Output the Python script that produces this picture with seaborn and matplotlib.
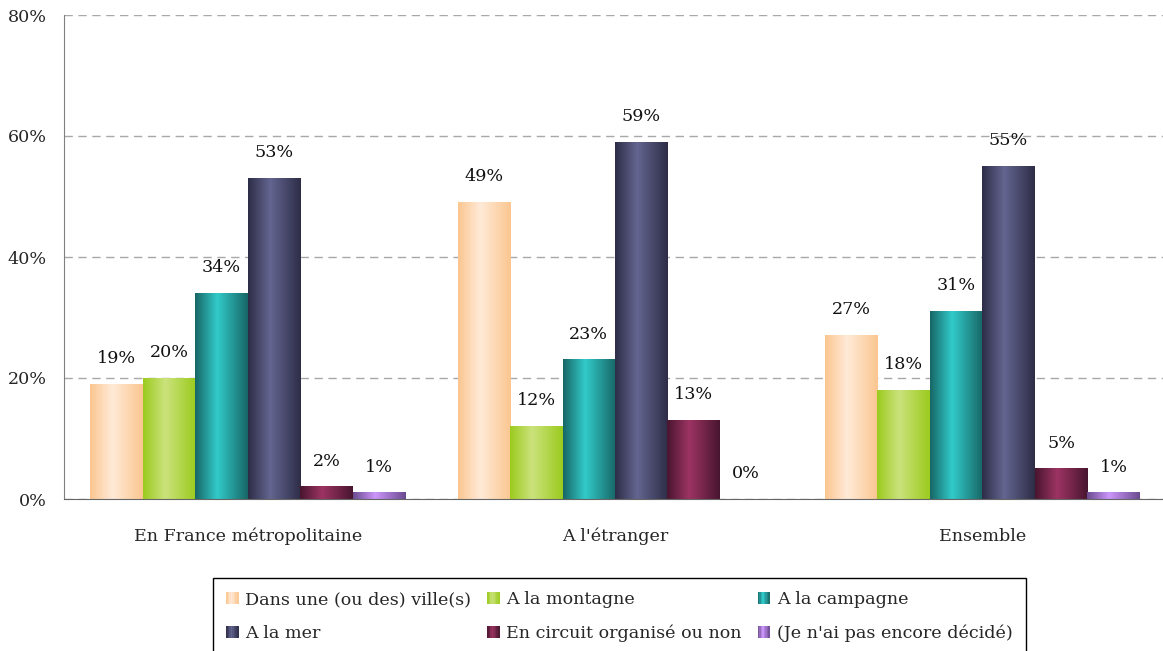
import numpy as np
import pandas as pd
import matplotlib
matplotlib.use("Agg")
import matplotlib.pyplot as plt
import seaborn as sns
from matplotlib.colors import LinearSegmentedColormap
from matplotlib.patches import Rectangle
from matplotlib.legend_handler import HandlerBase

# data
groups = ["En France métropolitaine", "A l'étranger", "Ensemble"]
categories = ["Dans une (ou des) ville(s)", "A la montagne", "A la campagne",
              "A la mer", "En circuit organisé ou non", "(Je n'ai pas encore décidé)"]
ville = [19, 49, 27]
montagne = [20, 12, 18]
campagne = [34, 23, 31]
mer = [53, 59, 55]
circuit = [2, 13, 5]
indecis = [1, 0, 1]
y_ticks = [0, 20, 40, 60, 80]

# gradient colours per category (edge, centre)
edge_cols = ["#FBC690", "#9BCB1E", "#186666", "#2D2D47", "#48152F", "#6A4B8F"]
centre_cols = ["#FFEAD8", "#CBE27C", "#31CBCA", "#646590", "#9D3463", "#CD95FB"]

series = [ville, montagne, campagne, mer, circuit, indecis]
rows = []
for cat, vals in zip(categories, series):
    for g, v in zip(groups, vals):
        rows.append({"groupe": g, "type": cat, "pct": v})
df = pd.DataFrame(rows)

FS = 12.6

sns.set_style("white")
plt.rcParams["font.family"] = ["DejaVu Serif"]
plt.rcParams["font.size"] = FS

fig = plt.figure(figsize=(11.63, 6.51), dpi=100)
ax = fig.add_axes([64 / 1163, 152 / 651, 1102 / 1163, 484 / 651])

sns.barplot(data=df, x="groupe", y="pct", hue="type", order=groups,
            hue_order=categories, palette=centre_cols, saturation=1,
            width=6 / 7, gap=0, errorbar=None, legend=False,
            linewidth=0, ax=ax)


def make_cmap(i):
    return LinearSegmentedColormap.from_list(
        "g%d" % i, [(0, edge_cols[i]), (0.42, centre_cols[i]), (1, edge_cols[i])])


grad = np.linspace(0, 1, 256)[None, :]
for i, cont in enumerate(ax.containers):
    cmap = make_cmap(i)
    for bar, v in zip(cont, series[i]):
        x0 = bar.get_x()
        w = bar.get_width()
        h = bar.get_height()
        if h > 0:
            ax.imshow(grad, cmap=cmap, extent=[x0, x0 + w, 0, h],
                      aspect="auto", zorder=2, interpolation="bilinear")
            bar.set_facecolor("none")
        ax.annotate(f"{v}%", (x0 + w / 2, h), xytext=(0, 18.5),
                    textcoords="offset points", ha="center", va="center",
                    fontsize=FS, color="#111111")

ax.set_xlim(-0.5, 2.5)
ax.set_ylim(0, 80)
ax.set_xlabel("")
ax.set_ylabel("")
ax.set_yticks(y_ticks)
ax.set_yticklabels([f"{t}%" for t in y_ticks])
ax.yaxis.grid(True, linestyle=(0, (6, 4)), color="#A8A8A8", linewidth=1)
ax.set_axisbelow(True)

sns.despine(ax=ax)
ax.spines["left"].set_color("#808080")
ax.spines["bottom"].set_color("#666666")
ax.tick_params(axis="y", length=4.5, color="#808080", pad=8, labelsize=FS)
ax.tick_params(axis="x", which="major", length=0, pad=30, labelsize=FS)
for lab in ax.get_xticklabels():
    lab.set_verticalalignment("baseline")
ax.set_xticks([0.5, 1.5, 2.5], minor=True)
ax.tick_params(axis="x", which="minor", length=4.5, color="#666666", direction="out")


class GradHandler(HandlerBase):
    def __init__(self, idx):
        super().__init__()
        self.idx = idx

    def create_artists(self, legend, orig_handle, xdescent, ydescent,
                       width, height, fontsize, trans):
        cmap = make_cmap(self.idx)
        n = 8
        arts = []
        for k in range(n):
            r = Rectangle((-xdescent + k * width / n, -ydescent), width / n + 0.3,
                          height, facecolor=cmap((k + 0.5) / n),
                          edgecolor="none", transform=trans)
            arts.append(r)
        return arts


handles = [Rectangle((0, 0), 1, 1) for _ in categories]
order = [0, 3, 1, 4, 2, 5]
leg = fig.legend([handles[i] for i in order], [categories[i] for i in order],
                 handler_map={handles[i]: GradHandler(i) for i in range(6)},
                 ncol=3, loc="upper left", bbox_to_anchor=(213 / 1163, 73 / 651),
                 frameon=True, fancybox=False, framealpha=1, edgecolor="black",
                 fontsize=FS, handlelength=0.7, handleheight=0.7,
                 handletextpad=0.4, columnspacing=0.9, labelspacing=0.95,
                 borderpad=0.75, borderaxespad=0)
leg.get_frame().set_linewidth(1)

fig.savefig("out.png", dpi=100)
